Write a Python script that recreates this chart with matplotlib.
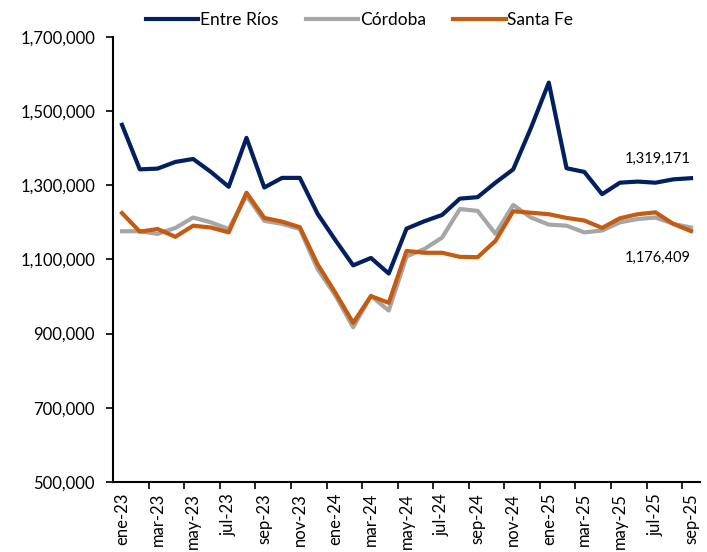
import numpy as np
import matplotlib.pyplot as plt
from matplotlib.ticker import FuncFormatter, FixedLocator

plt.rcParams['font.family'] = ['Lato', 'DejaVu Sans']

# Datos (mensuales, ene-23 a sep-25)
meses = ['ene', 'feb', 'mar', 'abr', 'may', 'jun', 'jul', 'ago', 'sep', 'oct', 'nov', 'dic']
etiquetas = [f"{m}-{a}" for a in ['23', '24', '25'] for m in meses][:33]

entre_rios = [1463000, 1343000, 1345000, 1363000, 1371000, 1336000, 1296000, 1428000,
              1294000, 1320000, 1320000, 1223000, 1152000, 1084000, 1104000, 1062000,
              1183000, 1203000, 1220000, 1264000, 1268000, 1307000, 1343000, 1455000,
              1577000, 1346000, 1336000, 1276000, 1307000, 1310000, 1307000, 1316000,
              1319171]
cordoba = [1176000, 1176000, 1169000, 1185000, 1213000, 1200000, 1182000, 1272000,
           1204000, 1196000, 1182000, 1074000, 1003000, 917000, 1002000, 962000,
           1108000, 1128000, 1159000, 1236000, 1231000, 1169000, 1247000, 1213000,
           1194000, 1191000, 1173000, 1178000, 1200000, 1209000, 1213000, 1196000,
           1186000]
santa_fe = [1225000, 1175000, 1182000, 1161000, 1191000, 1186000, 1173000, 1280000,
            1212000, 1202000, 1187000, 1087000, 1010000, 929000, 1001000, 983000,
            1123000, 1118000, 1118000, 1107000, 1106000, 1150000, 1230000, 1226000,
            1222000, 1212000, 1205000, 1185000, 1211000, 1222000, 1227000, 1196000,
            1176409]

x = np.arange(len(etiquetas))

fig = plt.figure(figsize=(7.07, 5.52), dpi=100)
ax = fig.add_axes([0.16, 0.127, 0.83, 0.806])

ax.plot(x, cordoba, color='#A6A6A6', lw=3, label='Córdoba', zorder=2)
ax.plot(x, santa_fe, color='#C55A11', lw=3, label='Santa Fe', zorder=3)
ax.plot(x, entre_rios, color='#002060', lw=3, label='Entre Ríos', zorder=4)

ax.set_ylim(500000, 1700000)
ax.set_yticks(np.arange(500000, 1700001, 200000))
ax.yaxis.set_major_formatter(FuncFormatter(lambda v, p: f"{int(v):,}"))
ax.set_xlim(-0.5, len(x) - 0.5)
ax.set_xticks(x[::2])
ax.set_xticklabels(etiquetas[::2], rotation=90)
ax.xaxis.set_minor_locator(FixedLocator(np.arange(1.5, len(x), 2)))
ax.tick_params(axis='x', which='major', length=0, pad=8, labelsize=12)
ax.tick_params(axis='x', which='minor', length=5, width=1.2, direction='out')
ax.tick_params(axis='y', length=5, width=1.2, labelsize=12, pad=8)

for s in ['top', 'right']:
    ax.spines[s].set_visible(False)
for s in ['left', 'bottom']:
    ax.spines[s].set_linewidth(1.5)

ax.annotate(f"{entre_rios[-1]:,}", (x[-1], entre_rios[-1]), xytext=(0, 9),
            textcoords='offset points', ha='right', va='bottom', fontsize=10.5)
ax.annotate(f"{santa_fe[-1]:,}", (x[-1], santa_fe[-1]), xytext=(0, -19),
            textcoords='offset points', ha='right', va='center', fontsize=10.5)

h, l = ax.get_legend_handles_labels()
order = [2, 0, 1]
ax.legend([h[i] for i in order], [l[i] for i in order], ncol=3, frameon=False,
          loc='lower center', bbox_to_anchor=(0.42, 0.985), fontsize=12.5,
          handlelength=3, handletextpad=0.1, columnspacing=1.6)

fig.savefig('out.png', dpi=100)
